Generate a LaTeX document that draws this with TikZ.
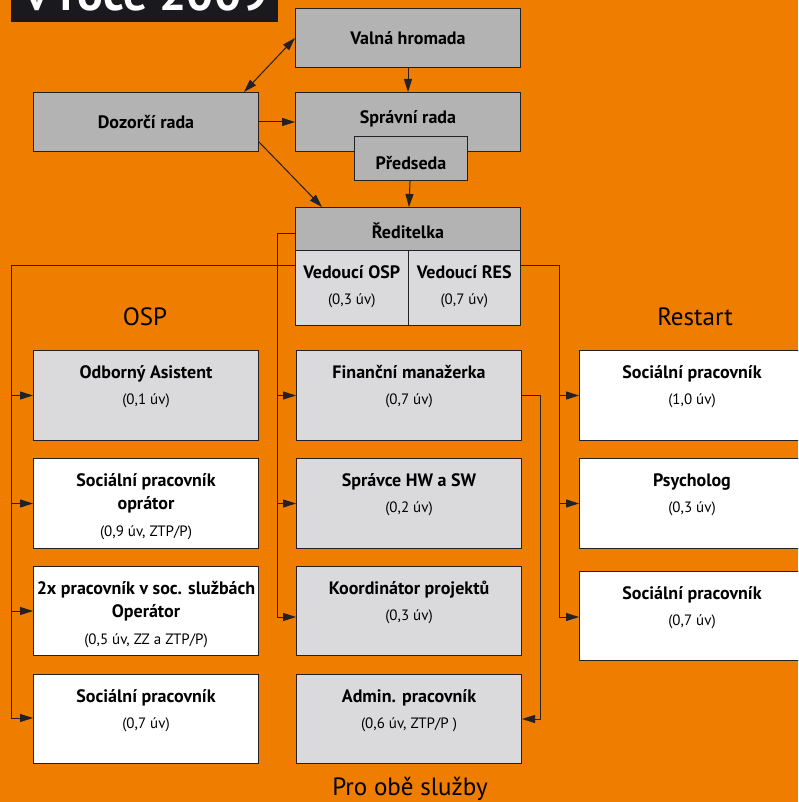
\documentclass[tikz,border=0pt]{standalone}
\usepackage{fontspec}
\setmainfont{PT Sans}
\usetikzlibrary{arrows.meta, calc, positioning}

\definecolor{bgorange}{RGB}{238,125,0}
\definecolor{darkgrey}{RGB}{179,179,180}
\definecolor{lightgrey}{RGB}{218,218,220}
\definecolor{linegrey}{RGB}{35,33,38}
\definecolor{titleblack}{RGB}{26,25,30}

\newcommand{\uvazek}[1]{{\mdseries\fontsize{15}{18}\selectfont #1}}

\begin{document}
\begin{tikzpicture}[>={Triangle[length=13pt,width=8pt]}, x=1pt, y=-1pt, line width=1pt, draw=linegrey]
	\tikzstyle{box} = [draw=linegrey, line width=1pt, minimum width=225pt, minimum height=90pt, anchor=north west, inner sep=0pt]
	\tikzstyle{upbox} = [box, fill=darkgrey, minimum height=59pt, font=\fontsize{18}{20}\selectfont\bfseries]
	\tikzstyle{boxtext} = [anchor=north, align=center, inner sep=0pt, yshift=-15pt, font=\fontsize{18}{23}\selectfont\bfseries]
	\tikzstyle{section} = [anchor=base, inner sep=0pt, font=\fontsize{25}{30}\selectfont]

	\path[use as bounding box, clip] (0,0) rectangle (798,802);
	\fill[bgorange] (0,0) rectangle (798,802);

	% title
	\fill[titleblack] (11,-10) rectangle (278,22);
	\node[anchor=base, text=white, inner sep=0pt, font=\fontsize{48}{50}\selectfont\bfseries] (title) at (147,11) {v roce 2009};

	% top
	\node[upbox] (valna) at (295,8) {Valná hromada};
	\node[upbox] (spravni) at (295,92) {\raisebox{3pt}[\height][\depth]{Správní rada}};
	\node[upbox] (dozorci) at (33,92) {Dozorčí rada};
	\node[upbox, minimum width=113pt, minimum height=44pt] (predseda) at (354,136) {\raisebox{-5pt}[\height][\depth]{Předseda}};

	\node[upbox, minimum height=43pt] (red) at (295,207) {\raisebox{-2pt}[\height][\depth]{Ředitelka}};
	\node[box, fill=lightgrey, minimum width=112.5pt, minimum height=75pt] (vosp) at (295,250) {};
	\node[box, fill=lightgrey, minimum width=112.5pt, minimum height=75pt] (vres) at (407.5,250) {};
	\node[boxtext] (vosp-t) at (vosp.north) {Vedoucí OSP\\[3pt]\uvazek{(0,3 úv)}};
	\node[boxtext] (vres-t) at (vres.north) {Vedoucí RES\\[3pt]\uvazek{(0,7 úv)}};

	\node[section] (osp) at (145,325) {OSP};
	\node[section] (restart) at (695,325) {Restart};
	\node[section] (obe) at (410,795) {Pro obě služby};

	% OSP
	\node[box, fill=lightgrey] (odb) at (33,350) {};
	\node[box, fill=white] (socop) at (33,458) {};
	\node[box, fill=white, minimum height=89pt] (prac) at (33,566) {};
	\node[box, fill=white, minimum height=89pt] (socl) at (33,674) {};
	\node[boxtext] (odb-t) at (odb.north) {Odborný Asistent\\[3pt]\uvazek{(0,1 úv)}};
	\node[boxtext] (socop-t) at (socop.north) {Sociální pracovník\\oprátor\\[4pt]\uvazek{(0,9 úv, ZTP/P)}};
	\node[boxtext] (prac-t) at (prac.north) {2x pracovník v soc. službách\\Operátor\\[4pt]\uvazek{(0,5 úv, ZZ a ZTP/P)}};
	\node[boxtext] (socl-t) at (socl.north) {Sociální pracovník\\[3pt]\uvazek{(0,7 úv)}};

	% pro obe sluzby
	\node[box, fill=lightgrey] (fin) at (296,350) {};
	\node[box, fill=lightgrey] (hwsw) at (296,458) {};
	\node[box, fill=lightgrey, minimum height=89pt] (koord) at (296,566) {};
	\node[box, fill=lightgrey, minimum height=89pt] (admin) at (296,674) {};
	\node[boxtext] (fin-t) at (fin.north) {Finanční manažerka\\[3pt]\uvazek{(0,7 úv)}};
	\node[boxtext] (hwsw-t) at (hwsw.north) {Správce HW a SW\\[3pt]\uvazek{(0,2 úv)}};
	\node[boxtext] (koord-t) at (koord.north) {Koordinátor projektů\\[3pt]\uvazek{(0,3 úv)}};
	\node[boxtext] (admin-t) at (admin.north) {Admin. pracovník\\[3pt]\uvazek{(0,6 úv, ZTP/P )}};

	% Restart
	\node[box, fill=white] (socr1) at (579,350) {};
	\node[box, fill=white] (psych) at (579,458) {};
	\node[box, fill=white, minimum height=89pt] (socr2) at (579,571) {};
	\node[boxtext] (socr1-t) at (socr1.north) {Sociální pracovník\\[3pt]\uvazek{(1,0 úv)}};
	\node[boxtext] (psych-t) at (psych.north) {Psycholog\\[3pt]\uvazek{(0,3 úv)}};
	\node[boxtext] (socr2-t) at (socr2.north) {Sociální pracovník\\[3pt]\uvazek{(0,7 úv)}};

	% connectors
	\draw[<->] ([xshift=-15pt]dozorci.north east) -- (valna.west);
	\draw[->] (dozorci.east) -- (spravni.west);
	\draw[->] ([yshift=10pt]dozorci.south east) -- ([xshift=27pt]red.north west);
	\draw[->] (valna) -- (spravni);
	\draw[->] (predseda) -- (red);

	\coordinate (ctop) at (277,233);
	\coordinate (cbot) at (277,617);
	\draw (red.west |- ctop) -- (ctop) -- (cbot);
	\draw[->] (cbot) -- (cbot -| koord.west);
	\foreach \n in {fin, hwsw}
		\draw[->] (\n.west -| ctop) -- (\n.west);

	\coordinate (ltop) at (11,265);
	\coordinate (lbot) at (11,718);
	\draw (vosp.west |- ltop) -- (ltop) -- (lbot);
	\draw[->] (lbot) -- (lbot -| socl.west);
	\foreach \n in {odb, socop, prac}
		\draw[->] (\n.west -| ltop) -- (\n.west);

	\coordinate (rtop) at (559,265);
	\coordinate (rbot) at (559,617);
	\draw (vres.east |- rtop) -- (rtop) -- (rbot);
	\draw[->] (rbot) -- (rbot -| socr2.west);
	\foreach \n in {socr1, psych}
		\draw[->] (\n.west -| rtop) -- (\n.west);

	\coordinate (fbus) at (540,0);
	\draw[->] (fin.east) -- (fin.east -| fbus) -- (admin.east -| fbus) -- (admin.east);
\end{tikzpicture}
\end{document}
